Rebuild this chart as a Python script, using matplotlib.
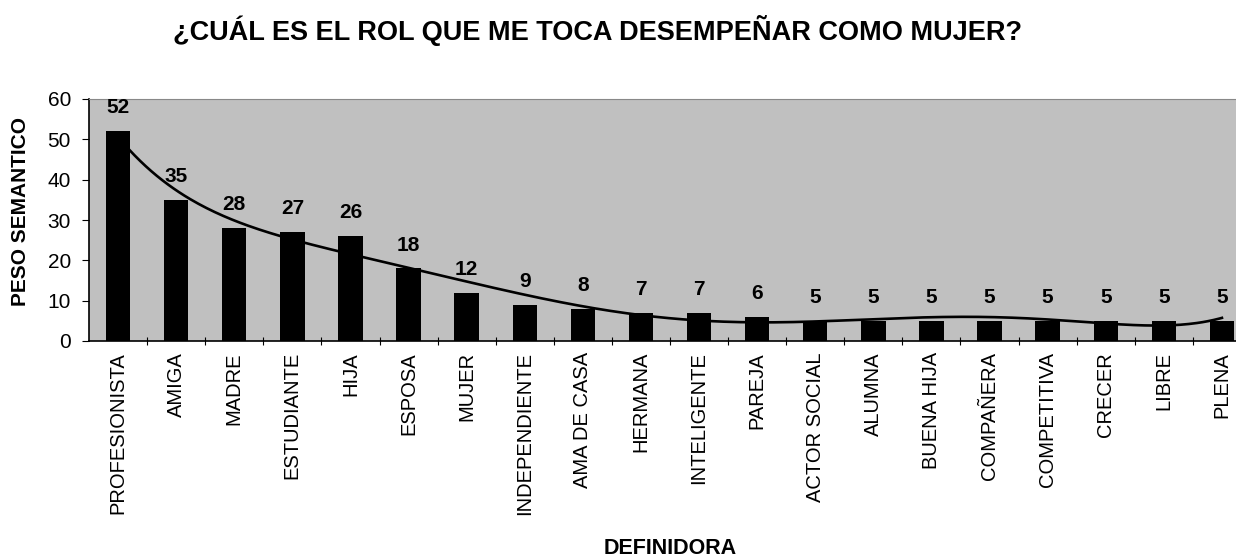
import numpy as np
import matplotlib
matplotlib.use('Agg')
import matplotlib.pyplot as plt

plt.rcParams['font.family'] = ['Liberation Sans', 'DejaVu Sans']

categories = ['PROFESIONISTA', 'AMIGA', 'MADRE', 'ESTUDIANTE', 'HIJA', 'ESPOSA',
              'MUJER', 'INDEPENDIENTE', 'AMA DE CASA', 'HERMANA', 'INTELIGENTE',
              'PAREJA', 'ACTOR SOCIAL', 'ALUMNA', 'BUENA HIJA', 'COMPAÑERA',
              'COMPETITIVA', 'CRECER', 'LIBRE', 'PLENA']
peso = [52, 35, 28, 27, 26, 18, 12, 9, 8, 7, 7, 6, 5, 5, 5, 5, 5, 5, 5, 5]

W, H = 1236, 557
fig = plt.figure(figsize=(W / 100, H / 100), dpi=100)
ax = fig.add_axes([89 / W, (H - 341) / H, (1251 - 89) / W, (341 - 99) / H])
ax.set_facecolor('#c0c0c0')

x = np.arange(len(categories))
ax.bar(x, peso, width=0.42, color='black', zorder=2)

# polynomial trend line (like the spreadsheet trendline)
coef = np.polyfit(x, peso, 6)
xs = np.linspace(0, len(categories) - 1, 400)
ax.plot(xs, np.polyval(coef, xs), color='black', lw=1.9, zorder=3)

for xi, v in zip(x, peso):
    ax.annotate(str(v), (xi, v), xytext=(0, 10), textcoords='offset points',
                ha='center', va='bottom', fontsize=15, fontweight='bold', zorder=4)

ax.set_xlim(-0.5, len(categories) - 0.5)
ax.set_ylim(0, 60)
ax.set_yticks(range(0, 61, 10))
ax.tick_params(axis='y', labelsize=15, length=5, direction='out', pad=8)

# category labels between boundary ticks
ax.set_xticks(np.arange(0.5, len(categories) - 0.5, 1))
ax.set_xticklabels([])
ax.tick_params(axis='x', length=6, direction='inout')
ax.set_xticks(x, minor=True)
ax.set_xticklabels(categories, minor=True, rotation=90, fontsize=14.5)
ax.tick_params(axis='x', which='minor', length=0, pad=8)

for s in ['left', 'bottom']:
    ax.spines[s].set_color('black')
    ax.spines[s].set_linewidth(1.2)
ax.spines['top'].set_color('#888888')
ax.spines['right'].set_visible(False)

fig.text(21 / W, 1 - 212 / H, 'PESO SEMANTICO', rotation=90, ha='center', va='center',
         fontsize=15, fontweight='bold')
fig.text(670 / W, 1 - 548 / H, 'DEFINIDORA', ha='center', va='center',
         fontsize=15.5, fontweight='bold')
fig.text(598 / W, 1 - 31 / H, '¿CUÁL ES EL ROL QUE ME TOCA DESEMPEÑAR COMO MUJER?',
         ha='center', va='center', fontsize=19.5, fontweight='bold')

fig.savefig('out.png', dpi=100)
